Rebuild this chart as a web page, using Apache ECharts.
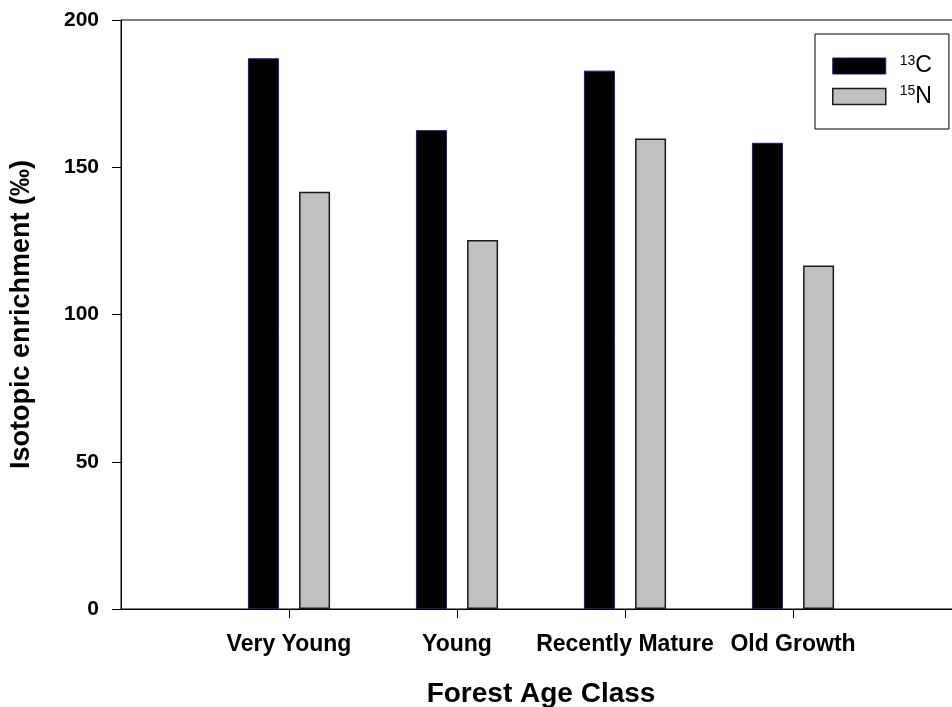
<!DOCTYPE html>
<html>
<head>
<meta charset="utf-8">
<script src="https://cdn.jsdelivr.net/npm/echarts@6/dist/echarts.min.js"></script>
<style>
html,body{margin:0;padding:0;background:#fff;}
#chart{width:952px;height:707px;}
</style>
</head>
<body>
<div id="chart"></div>
<script>
const categories = ['Very Young', 'Young', 'Recently Mature', 'Old Growth'];
const c13Values = [187.0, 162.6, 182.8, 158.3];
const n15Values = [141.7, 125.3, 159.8, 116.6];
const yTicks = [0, 50, 100, 150, 200];

// padded category axis: empty slot at each end (as in the original plot)
const axisCats = [''].concat(categories, ['']);
const pad = v => [null].concat(v, [null]);

const FONT = '"Liberation Sans", Arial, sans-serif';
const chart = echarts.init(document.getElementById('chart'), null, {renderer: 'canvas'});

chart.setOption({
  animation: false,
  backgroundColor: '#fff',
  grid: {
    left: 121, top: 20, width: 840, height: 589,
    outerBoundsMode: 'none',
    containLabel: false,
    show: true, borderColor: '#000', borderWidth: 1, backgroundColor: 'transparent'
  },
  legend: {
    left: 815, top: 34,
    orient: 'vertical',
    backgroundColor: '#fff',
    borderColor: '#000', borderWidth: 1,
    padding: [20, 17, 21, 17],
    itemWidth: 53, itemHeight: 16, itemGap: 7,
    icon: 'rect',
    data: [
      {name: '13C', itemStyle: {color: '#000', borderColor: '#1a1a80', borderWidth: 1}},
      {name: '15N', itemStyle: {color: '#c0c0c0', borderColor: '#1a1a1a', borderWidth: 1.5}}
    ],
    formatter: function (name) {
      return '{s|' + name.slice(0, 2) + '}{b|' + name.slice(2) + '}';
    },
    textStyle: {
      fontFamily: FONT,
      color: '#000',
      rich: {
        s: {fontSize: 14, fontFamily: FONT, color: '#000', verticalAlign: 'top', lineHeight: 14, padding: [0, 0, 0, 9]},
        b: {fontSize: 23, fontFamily: FONT, color: '#000', lineHeight: 24}
      }
    }
  },
  xAxis: {
    type: 'category',
    data: axisCats,
    boundaryGap: false,
    name: 'Forest Age Class',
    nameLocation: 'middle',
    nameGap: 71,
    nameTextStyle: {fontFamily: FONT, fontWeight: 'bold', fontSize: 28, color: '#000'},
    axisLine: {lineStyle: {color: '#000', width: 1}},
    axisTick: {
      show: true, inside: false, length: 9,
      lineStyle: {color: '#000', width: 1},
      interval: function (idx, val) { return val !== ''; }
    },
    axisLabel: {
      fontFamily: FONT, fontWeight: 'bold', fontSize: 23, color: '#000', margin: 24,
      interval: 0
    },
    splitLine: {show: false}
  },
  yAxis: {
    type: 'value',
    min: yTicks[0], max: yTicks[yTicks.length - 1], interval: 50,
    name: 'Isotopic enrichment (\u2030)',
    nameLocation: 'middle',
    nameGap: 86,
    nameRotate: 90,
    nameTextStyle: {fontFamily: FONT, fontWeight: 'bold', fontSize: 27, color: '#000'},
    axisLine: {show: true, lineStyle: {color: '#000', width: 1}},
    axisTick: {show: true, inside: false, length: 9, lineStyle: {color: '#000', width: 1}},
    axisLabel: {fontFamily: FONT, fontWeight: 'bold', fontSize: 21, color: '#000', margin: 22},
    splitLine: {show: false}
  },
  series: [
    {
      name: '13C', type: 'bar', data: pad(c13Values),
      barWidth: 31, barGap: '65%',
      itemStyle: {color: '#000', borderColor: '#1a1a80', borderWidth: 1}
    },
    {
      name: '15N', type: 'bar', data: pad(n15Values),
      barWidth: 31, barGap: '65%',
      itemStyle: {color: '#c0c0c0', borderColor: '#1a1a1a', borderWidth: 1.5}
    }
  ]
});
</script>
</body>
</html>
